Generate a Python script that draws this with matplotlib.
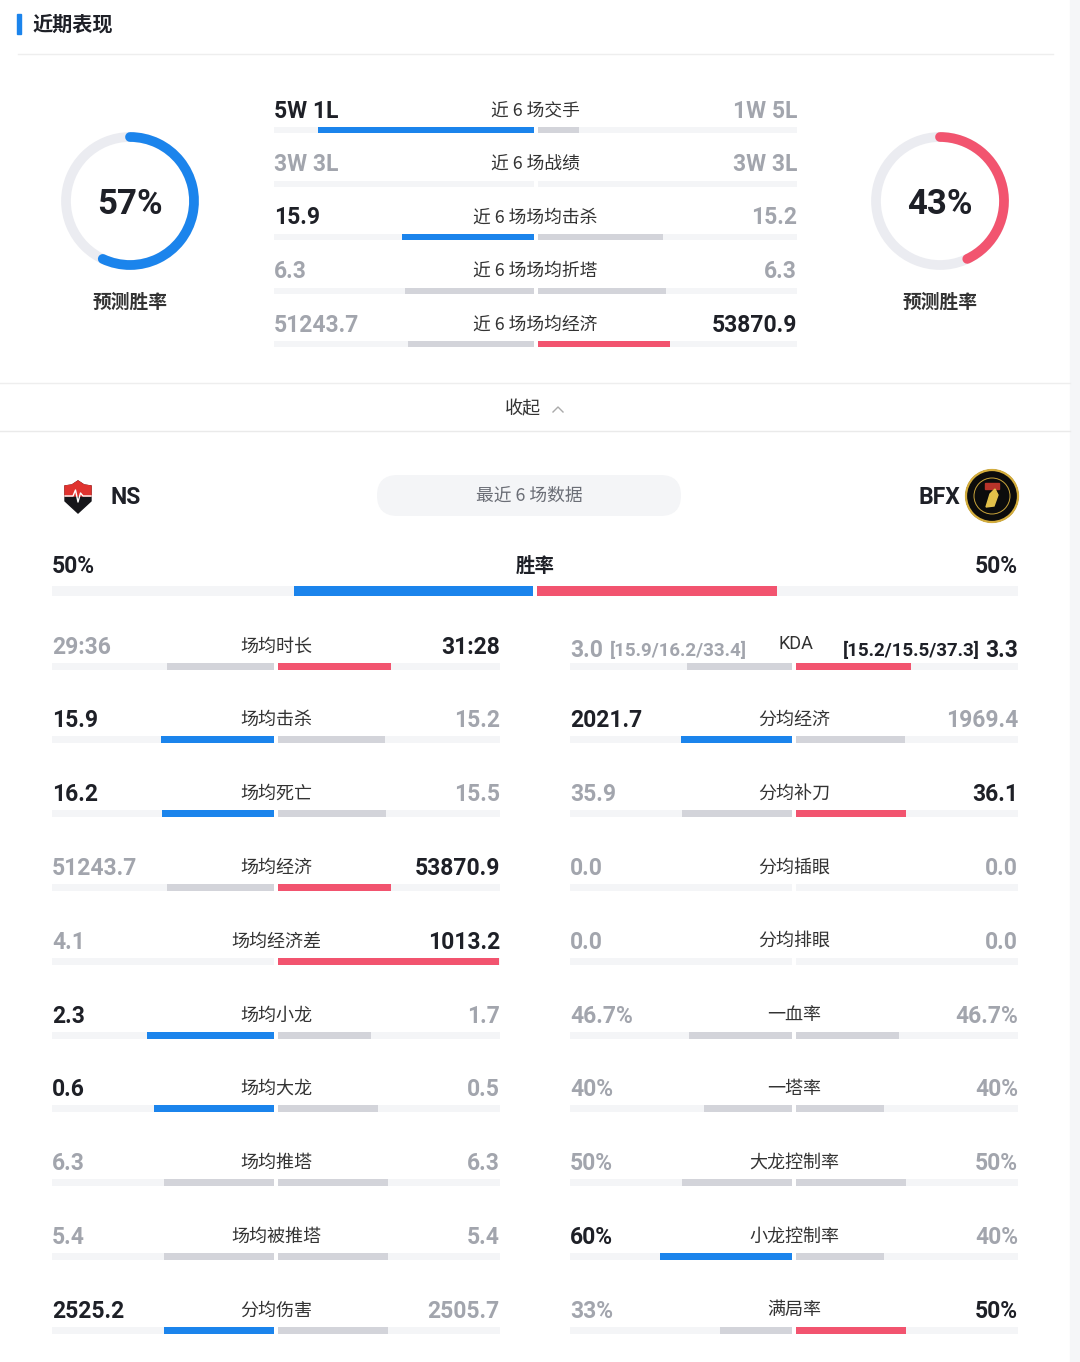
import matplotlib.pyplot as plt
from matplotlib.patches import Arc, Circle, FancyBboxPatch, Polygon, Rectangle

# ---- data ----
ns_name, bfx_name = "NS", "BFX"
ns_pred, bfx_pred = 57, 43          # 预测胜率 %
ns_winrate, bfx_winrate = 50, 50    # 最近 6 场 胜率 %

top_labels = ["近 6 场交手", "近 6 场战绩", "近 6 场场均击杀", "近 6 场场均折塔", "近 6 场场均经济"]
top_ns_text = ["5W 1L", "3W 3L", "15.9", "6.3", "51243.7"]
top_bfx_text = ["1W 5L", "3W 3L", "15.2", "6.3", "53870.9"]
top_ns_val = [5, None, 15.9, 6.3, 51243.7]
top_bfx_val = [1, None, 15.2, 6.3, 53870.9]

left_labels = ["场均时长", "场均击杀", "场均死亡", "场均经济", "场均经济差",
               "场均小龙", "场均大龙", "场均推塔", "场均被推塔", "分均伤害"]
left_ns = ["29:36", "15.9", "16.2", "51243.7", "4.1", "2.3", "0.6", "6.3", "5.4", "2525.2"]
left_bfx = ["31:28", "15.2", "15.5", "53870.9", "1013.2", "1.7", "0.5", "6.3", "5.4", "2505.7"]

right_labels = ["KDA", "分均经济", "分均补刀", "分均插眼", "分均排眼",
                "一血率", "一塔率", "大龙控制率", "小龙控制率", "满局率"]
right_ns = ["3.0", "2021.7", "35.9", "0.0", "0.0", "46.7%", "40%", "50%", "60%", "33%"]
right_bfx = ["3.3", "1969.4", "36.1", "0.0", "0.0", "46.7%", "40%", "50%", "40%", "50%"]
kda_ns_detail = "[15.9/16.2/33.4]"
kda_bfx_detail = "[15.2/15.5/37.3]"

# ---- style ----
W, H = 1080, 1362
BLUE = '#1b84ec'
RED = '#f2546f'
GRAY_BAR = '#d3d4da'
TRACK = '#f4f5f7'
DARK = '#1e2027'
MUTED = '#a2a5ad'
LABEL = '#333333'
NUM = ['Roboto', 'DejaVu Sans']
CJK = ['Noto Sans CJK SC', 'DejaVu Sans']


def parse(s):
    if ':' in s:
        m, sec = s.split(':')
        return int(m) * 60 + int(sec)
    return float(s.rstrip('%'))


def shares(a_txt, b_txt):
    a, b = parse(a_txt), parse(b_txt)
    if a_txt.endswith('%'):
        return a / 100, b / 100, a, b
    tot = a + b
    if tot == 0:
        return 0, 0, a, b
    return a / tot, b / tot, a, b


fig = plt.figure(figsize=(W / 100, H / 100), dpi=100)
bg = fig.add_axes([0, 0, 1, 1])
bg.set_xlim(0, W)
bg.set_ylim(H, 0)
bg.axis('off')


def panel(x0, x1, y_first, step, nrows):
    y0 = y_first - step / 2
    y1 = y_first + step * (nrows - 0.5)
    ax = fig.add_axes([x0 / W, 1 - y1 / H, (x1 - x0) / W, (y1 - y0) / H])
    ax.set_xlim(-1, 1)
    ax.set_ylim(nrows - 0.5, -0.5)
    ax.axis('off')
    return ax


def bar_row(ax, i, ls, rs, lcol, rcol, h, gap):
    ax.barh(i, 1 - gap, left=-1, height=h, color=TRACK)
    ax.barh(i, 1 - gap, left=gap, height=h, color=TRACK)
    if ls > gap:
        ax.barh(i, ls - gap, left=-ls, height=h, color=lcol)
    if rs > gap:
        ax.barh(i, rs - gap, left=gap, height=h, color=rcol)


def colors_for(a, b):
    if a > b:
        return BLUE, GRAY_BAR, DARK, MUTED
    if b > a:
        return GRAY_BAR, RED, MUTED, DARK
    return GRAY_BAR, GRAY_BAR, MUTED, MUTED


# ---- header ----
bg.add_patch(Rectangle((17, 14), 4, 20, color=BLUE))
bg.text(32, 24, "近期表现", family=CJK, fontsize=14.5, weight='bold', color=DARK, va='center')
bg.plot([18, 1053], [54, 54], color='#eeeeee', lw=1)
bg.add_patch(Rectangle((1070, 0), 10, H, color='#f5f6f8'))

# ---- predicted win rate donuts ----
for cx, p, col in [(130, ns_pred, BLUE), (940, bfx_pred, RED)]:
    bg.add_patch(Circle((cx, 201), 64, fill=False, lw=7, color='#ebecf1'))
    bg.add_patch(Arc((cx, 201), 128, 128, theta1=-90, theta2=-90 + 360 * p / 100,
                     lw=7, color=col, capstyle='round'))
    bg.text(cx, 205, f"{p}%", family=NUM, fontsize=25, weight='bold', color=DARK,
            ha='center', va='center')
    bg.text(cx, 302, "预测胜率", family=CJK, fontsize=13.5, weight='bold', color=LABEL,
            ha='center', va='center')

# ---- top comparison ----
top_step = 53.5
tp = panel(274, 797, 130, top_step, len(top_labels))
gap_t = 2 / 261.5
for i, lab in enumerate(top_labels):
    a, b = top_ns_val[i], top_bfx_val[i]
    if a is None:
        ls = rs = 0
        lc, rc, ltc, rtc = colors_for(0, 0)
    else:
        ls, rs = a / (a + b), b / (a + b)
        lc, rc, ltc, rtc = colors_for(a, b)
    bar_row(tp, i, ls, rs, lc, rc, 6 / top_step, gap_t)
    ty = i - 19 / top_step
    tp.text(-1, ty, top_ns_text[i], family=NUM, fontsize=16.5, weight='bold', color=ltc,
            ha='left', va='center')
    tp.text(1, ty, top_bfx_text[i], family=NUM, fontsize=16.5, weight='bold', color=rtc,
            ha='right', va='center')
    tp.text(0, ty - 0.01, lab, family=CJK, fontsize=12.8, color=LABEL, ha='center', va='center')

# ---- collapse row ----
bg.plot([0, 1070], [383, 383], color='#eeeeee', lw=1)
bg.plot([0, 1070], [431, 431], color='#eaeaea', lw=1)
bg.text(523, 409, "收起", family=CJK, fontsize=13, color=LABEL, ha='center', va='center')
bg.plot([553, 558, 563], [412, 407, 412], color='#aaaaaa', lw=1)

# ---- teams ----
shield = [(65, 486), (72, 485), (78, 481), (84, 485), (91, 486), (91, 501), (78, 513), (65, 501)]
bg.add_patch(Polygon(shield, closed=True, color='#16161a'))
bg.add_patch(Polygon([(65, 486), (72, 485), (78, 481), (84, 485), (91, 486), (91, 496), (65, 496)],
                     closed=True, color='#e0332f'))
bg.plot([65, 73, 75.5, 78, 80.5, 83, 91], [496, 496, 490, 502, 493, 496, 496], color='white', lw=1)
bg.text(110, 498, ns_name, family=NUM, fontsize=16.5, weight='bold', color=DARK, va='center')

bg.add_patch(Circle((992, 496), 26, color='#0c0c0c'))
bg.add_patch(Circle((992, 496), 26, fill=False, color='#d4ad3c', lw=1.6))
bg.add_patch(Circle((992, 496), 18, fill=False, color='#c9a43a', lw=0.7))
bg.add_patch(Rectangle((985, 483), 14, 6, color='#b8342a'))
bg.add_patch(Polygon([(986, 507), (990, 494), (995, 489), (998, 495), (994, 506)],
                     closed=True, color='#e2c04a'))
bg.text(960, 498, bfx_name, family=NUM, fontsize=16.5, weight='bold', color=DARK,
        ha='right', va='center')

bg.add_patch(FancyBboxPatch((377, 475), 304, 41, boxstyle="round,pad=0,rounding_size=20.5",
                            color='#f4f5f7', lw=0))
bg.text(529, 496, "最近 6 场数据", family=CJK, fontsize=12.8, color='#6b6e76',
        ha='center', va='center')

# ---- overall win rate ----
wp = panel(52, 1018, 591, 40, 1)
bar_row(wp, 0, ns_winrate / 100, bfx_winrate / 100, BLUE, RED, 10 / 40, 2 / 483)
wp.text(-1, -24 / 40, f"{ns_winrate}%", family=NUM, fontsize=16.5, weight='bold', color=DARK,
        ha='left', va='center')
wp.text(1, -24 / 40, f"{bfx_winrate}%", family=NUM, fontsize=16.5, weight='bold', color=DARK,
        ha='right', va='center')
wp.text(0, -25 / 40, "胜率", family=CJK, fontsize=14, weight='bold', color=DARK,
        ha='center', va='center')

# ---- stats columns ----
step = 73.8
for x0, x1, labels, ns_vals, bfx_vals in [(52, 500, left_labels, left_ns, left_bfx),
                                          (570, 1018, right_labels, right_ns, right_bfx)]:
    ax = panel(x0, x1, 666, step, len(labels))
    for i, lab in enumerate(labels):
        ls, rs, a, b = shares(ns_vals[i], bfx_vals[i])
        lc, rc, ltc, rtc = colors_for(a, b)
        bar_row(ax, i, ls, rs, lc, rc, 7 / step, 2 / 224)
        ty = i - 19 / step
        # KDA numbers sit a little lower than the other rows
        vy = ty + 3 / step if lab == "KDA" else ty
        lt = ax.text(-1, vy, ns_vals[i], family=NUM, fontsize=16.5, weight='bold', color=ltc,
                     ha='left', va='center')
        rt = ax.text(1, vy, bfx_vals[i], family=NUM, fontsize=16.5, weight='bold', color=rtc,
                     ha='right', va='center')
        if lab == "KDA":
            ax.annotate(kda_ns_detail, xy=(1, 0.45), xycoords=lt, xytext=(5, 0),
                        textcoords='offset points', family=NUM, fontsize=13.5, weight='bold',
                        color=ltc, ha='left', va='center')
            ax.annotate(kda_bfx_detail, xy=(0, 0.45), xycoords=rt, xytext=(-4, 0),
                        textcoords='offset points', family=NUM, fontsize=13.5, weight='bold',
                        color=rtc, ha='right', va='center')
            ax.text(0.01, ty - 0.04, lab, family=NUM, fontsize=13, color=LABEL,
                    ha='center', va='center')
        else:
            ax.text(0, ty - 0.01, lab, family=CJK, fontsize=13, color=LABEL,
                    ha='center', va='center')

fig.savefig("out.png", dpi=100, facecolor='white')
